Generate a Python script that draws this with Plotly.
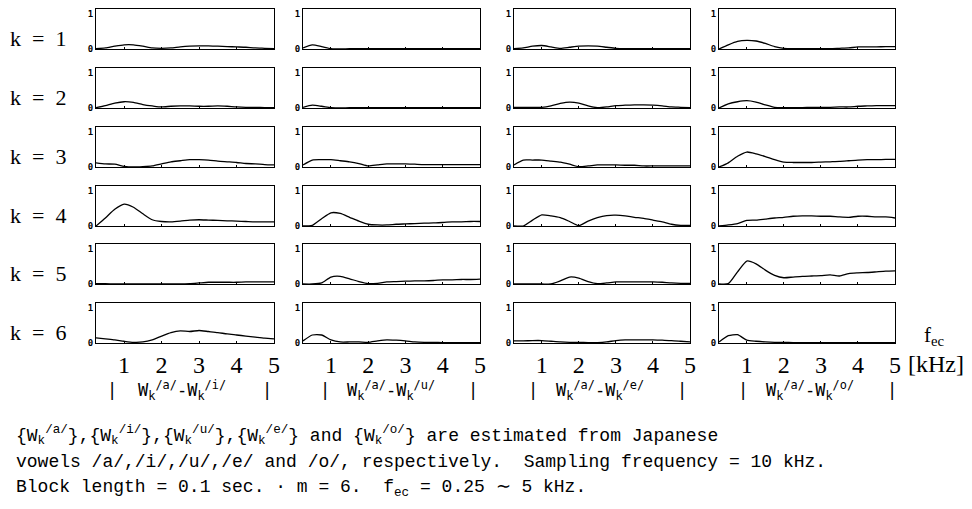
import plotly.graph_objects as go

W, H = 972, 509
OFF = 8                  # page body margin in the browser
FW, FH = W - OFF, H - OFF

freq_khz = [0.25, 0.5, 0.75, 1.0, 1.25, 1.5, 1.75, 2.0, 2.25, 2.5,
            2.75, 3.0, 3.25, 3.5, 3.75, 4.0, 4.25, 4.5, 4.75, 5.0]
x_ticks = [1, 2, 3, 4, 5]
x_tick_labels = ["1", "2", "3", "4", "5"]
row_labels = ["k = 1", "k = 2", "k = 3", "k = 4", "k = 5", "k = 6"]
vowel_pairs = ["i", "u", "e", "o"]

# |W_k^/a/ - W_k^/i/|, rows k = 1..6
diff_a_i = [
    [0.01,0.03,0.08,0.12,0.12,0.08,0.03,0.02,0.03,0.06,0.08,0.09,0.09,0.08,0.07,0.06,0.05,0.03,0.02,0.01],
    [0.01,0.07,0.14,0.18,0.16,0.10,0.06,0.03,0.05,0.06,0.06,0.05,0.05,0.06,0.05,0.03,0.02,0.02,0.01,0.01],
    [0.12,0.09,0.08,0.02,0.00,0.01,0.03,0.09,0.15,0.18,0.21,0.21,0.20,0.17,0.15,0.13,0.10,0.09,0.07,0.06],
    [0.00,0.23,0.48,0.63,0.54,0.35,0.18,0.13,0.12,0.14,0.17,0.18,0.17,0.16,0.15,0.14,0.13,0.12,0.12,0.12],
    [0.01,0.01,0.00,0.00,0.00,0.00,0.00,0.00,0.00,0.00,0.01,0.03,0.05,0.05,0.05,0.05,0.06,0.06,0.06,0.06],
    [0.15,0.12,0.09,0.05,0.02,0.03,0.09,0.20,0.30,0.35,0.33,0.36,0.33,0.30,0.26,0.23,0.20,0.17,0.14,0.12],
]
# |W_k^/a/ - W_k^/u/|
diff_a_u = [
    [0.03,0.12,0.07,0.01,0.00,0.01,0.01,0.01,0.01,0.01,0.01,0.01,0.01,0.01,0.01,0.01,0.01,0.01,0.01,0.01],
    [0.02,0.08,0.05,0.01,0.00,0.01,0.01,0.01,0.01,0.01,0.01,0.01,0.01,0.01,0.01,0.01,0.01,0.01,0.01,0.01],
    [0.06,0.20,0.21,0.21,0.18,0.15,0.10,0.03,0.06,0.09,0.09,0.09,0.08,0.07,0.07,0.07,0.07,0.07,0.07,0.07],
    [0.00,0.02,0.21,0.38,0.36,0.25,0.14,0.05,0.03,0.03,0.05,0.06,0.07,0.08,0.09,0.10,0.12,0.12,0.13,0.13],
    [0.00,0.00,0.03,0.20,0.22,0.15,0.07,0.01,0.02,0.06,0.07,0.08,0.09,0.09,0.10,0.12,0.12,0.13,0.13,0.14],
    [0.06,0.23,0.23,0.09,0.03,0.03,0.03,0.02,0.06,0.09,0.08,0.06,0.03,0.02,0.02,0.01,0.01,0.01,0.01,0.01],
]
# |W_k^/a/ - W_k^/e/|
diff_a_e = [
    [0.01,0.03,0.08,0.10,0.06,0.02,0.05,0.08,0.09,0.08,0.05,0.02,0.01,0.01,0.01,0.01,0.01,0.01,0.01,0.01],
    [0.02,0.02,0.02,0.02,0.06,0.13,0.17,0.14,0.06,0.01,0.03,0.07,0.08,0.09,0.09,0.08,0.06,0.03,0.02,0.01],
    [0.06,0.20,0.20,0.20,0.17,0.14,0.08,0.01,0.03,0.06,0.06,0.06,0.05,0.05,0.03,0.03,0.03,0.03,0.03,0.03],
    [0.00,0.00,0.17,0.32,0.29,0.24,0.13,0.01,0.14,0.24,0.30,0.31,0.29,0.25,0.22,0.17,0.12,0.05,0.02,0.02],
    [0.00,0.00,0.00,0.00,0.00,0.09,0.20,0.17,0.07,0.01,0.03,0.06,0.06,0.06,0.06,0.06,0.05,0.03,0.02,0.02],
    [0.06,0.06,0.07,0.07,0.05,0.03,0.02,0.02,0.01,0.01,0.03,0.07,0.09,0.09,0.09,0.09,0.08,0.07,0.05,0.03],
]
# |W_k^/a/ - W_k^/o/|
diff_a_o = [
    [0.00,0.12,0.22,0.25,0.23,0.16,0.07,0.02,0.01,0.01,0.01,0.01,0.01,0.02,0.03,0.06,0.06,0.06,0.07,0.07],
    [0.00,0.12,0.18,0.21,0.17,0.09,0.02,0.01,0.01,0.01,0.02,0.02,0.02,0.03,0.03,0.05,0.06,0.07,0.07,0.07],
    [0.00,0.12,0.31,0.43,0.38,0.30,0.21,0.14,0.13,0.13,0.13,0.14,0.15,0.16,0.18,0.20,0.21,0.21,0.22,0.22],
    [0.00,0.03,0.07,0.16,0.17,0.20,0.23,0.25,0.28,0.29,0.29,0.28,0.28,0.26,0.25,0.28,0.28,0.26,0.26,0.23],
    [0.00,0.01,0.35,0.66,0.58,0.40,0.25,0.18,0.20,0.22,0.23,0.24,0.26,0.23,0.30,0.32,0.33,0.35,0.37,0.38],
    [0.03,0.21,0.24,0.08,0.05,0.03,0.02,0.02,0.01,0.01,0.01,0.01,0.01,0.01,0.01,0.01,0.01,0.01,0.01,0.01],
]
columns = [diff_a_i, diff_a_u, diff_a_e, diff_a_o]

# layout in page pixels
col_left = [96, 303, 514, 719]
col_right = [274, 480, 690, 895]
row_top = [9, 68, 127, 186, 244, 303]
panel_h = 40
bar_left = [112, 325, 533, 743]
bar_right = [267, 473, 682, 892]


def px(xp):
    return (xp - OFF) / FW


def py(yp):
    return 1 - (yp - OFF) / FH


fig = go.Figure()
layout = dict(
    width=FW, height=FH,
    margin=dict(l=0, r=0, t=0, b=0, pad=0, autoexpand=False),
    paper_bgcolor="white", plot_bgcolor="white", showlegend=False,
)

serif = "Liberation Serif"
mono = "Liberation Mono"
dmono = "DejaVu Sans Mono"

idx = 0
for r in range(6):
    for c in range(4):
        idx += 1
        xa = "xaxis" if idx == 1 else f"xaxis{idx}"
        ya = "yaxis" if idx == 1 else f"yaxis{idx}"
        xr = "x" if idx == 1 else f"x{idx}"
        yr = "y" if idx == 1 else f"y{idx}"
        fig.add_trace(go.Scatter(
            x=freq_khz, y=columns[c][r], xaxis=xr, yaxis=yr, mode="lines",
            line=dict(color="black", width=1.3, shape="spline", smoothing=0.6),
            hoverinfo="skip", cliponaxis=True,
        ))
        top = row_top[r]
        layout[xa] = dict(
            domain=[px(col_left[c]), px(col_right[c])], anchor=yr,
            range=[0.25, 5.0], showgrid=False, zeroline=False,
            showline=True, linecolor="black", linewidth=1.3, mirror=True,
            tickvals=x_ticks, ticktext=x_tick_labels,
            showticklabels=(r == 5), ticks="inside", ticklen=2, tickcolor="black",
            tickfont=dict(family=serif, size=24, color="black"),
            automargin=False,
        )
        layout[ya] = dict(
            domain=[py(top + panel_h), py(top)], anchor=xr,
            range=[0, 1.15], showgrid=False, zeroline=False,
            showline=True, linecolor="black", linewidth=1.3, mirror=True,
            tickvals=[0, 1], ticktext=["0", "1"], ticks="",
            tickfont=dict(family=dmono, size=9, color="black", weight="bold"),
            automargin=False,
        )

fig.update_layout(**layout)

ann = []
nb = "\u00a0"
for r, lab in enumerate(row_labels):
    ycen = row_top[r] + panel_h / 2 + 9
    ann.append(dict(x=px(8), y=py(ycen), xref="paper", yref="paper",
                    xanchor="left", yanchor="middle", showarrow=False,
                    text=lab.replace(" ", nb + nb),
                    font=dict(family=serif, size=22, color="black")))

bar_font = dict(family=dmono, size=17, color="black")
lab_font = dict(family=dmono, size=17, color="black")
lab_y = 390
for c, v in enumerate(vowel_pairs):
    ann.append(dict(x=px(bar_left[c]), y=py(lab_y), xref="paper", yref="paper",
                    xanchor="center", yanchor="middle", showarrow=False,
                    text="|", font=bar_font))
    ann.append(dict(x=px(bar_right[c]), y=py(lab_y), xref="paper", yref="paper",
                    xanchor="center", yanchor="middle", showarrow=False,
                    text="|", font=bar_font))
    txt = f"W<sub>k</sub><sup>/a/</sup>-W<sub>k</sub><sup>/{v}/</sup>"
    xc = (bar_left[c] + bar_right[c]) / 2 - 8
    ann.append(dict(x=px(xc), y=py(lab_y), xref="paper", yref="paper",
                    xanchor="center", yanchor="middle", showarrow=False, text=txt,
                    font=lab_font))

ann.append(dict(x=px(934), y=py(336), xref="paper", yref="paper",
                xanchor="center", yanchor="middle", showarrow=False,
                text="f<sub>ec</sub>", font=dict(family=serif, size=21, color="black")))
ann.append(dict(x=px(906), y=py(364), xref="paper", yref="paper",
                xanchor="left", yanchor="middle", showarrow=False,
                text="[kHz]", font=dict(family=serif, size=24, color="black")))


def wk(v):
    return f"W<sub>k</sub><sup>/{v}/</sup>"


caption = [
    f"{{{wk('a')}}},{{{wk('i')}}},{{{wk('u')}}},{{{wk('e')}}} and {{{wk('o')}}} are estimated from Japanese",
    f"vowels /a/,/i/,/u/,/e/ and /o/, respectively.{nb}{nb}Sampling frequency = 10 kHz.",
    f"Block length = 0.1 sec. · m = 6.{nb}{nb}f<sub>ec</sub> = 0.25 ∼ 5 kHz.",
]
cap_y = [435, 462, 488]
for t, yy in zip(caption, cap_y):
    ann.append(dict(x=px(14), y=py(yy), xref="paper", yref="paper",
                    xanchor="left", yanchor="middle", showarrow=False, text=t,
                    font=dict(family=mono, size=18, color="black")))

fig.update_layout(annotations=ann)
fig.write_html("out.html")
